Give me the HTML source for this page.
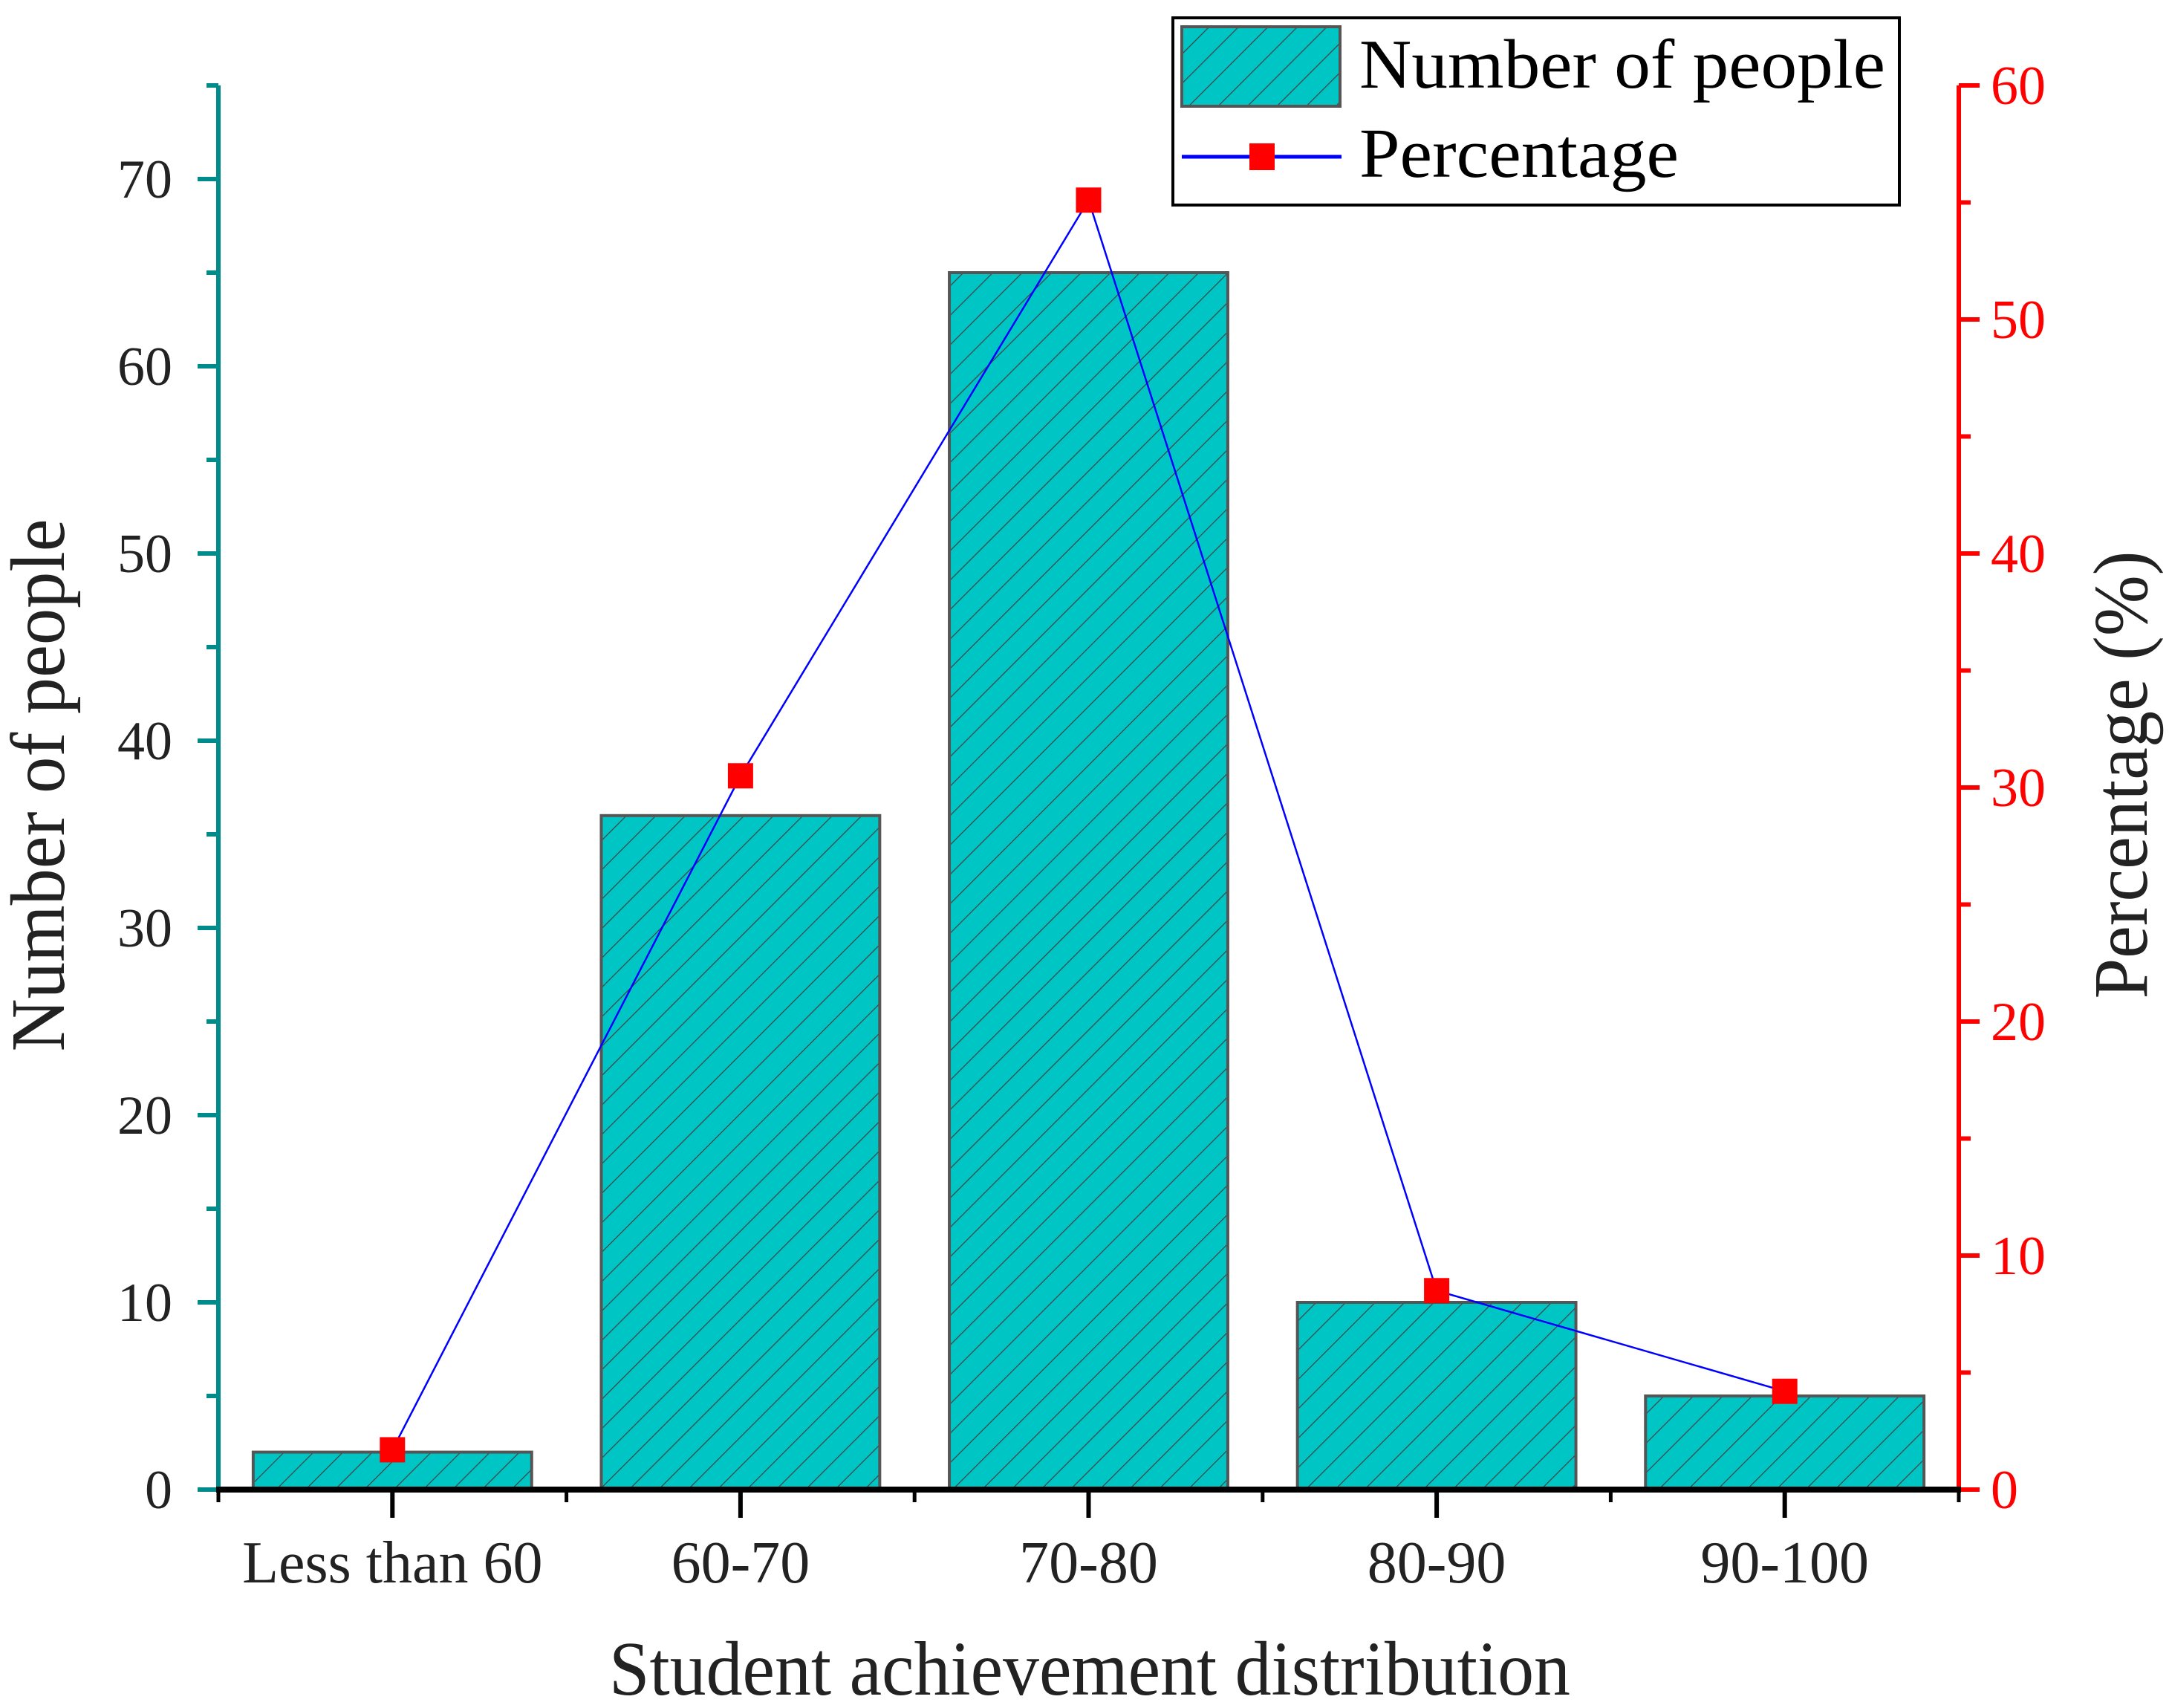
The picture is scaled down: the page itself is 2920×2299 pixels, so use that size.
<!DOCTYPE html>
<html><head><meta charset="utf-8"><style>html,body{margin:0;padding:0;background:#fff}svg{display:block}text{font-family:"Liberation Serif",serif}</style></head>
<body>
<svg id="chart" width="2920" height="2299" viewBox="0 0 2920 2299" xmlns="http://www.w3.org/2000/svg">
<defs>
<pattern id="hatch" patternUnits="userSpaceOnUse" width="28" height="28" patternTransform="rotate(45)">
<rect width="28" height="28" fill="#00C5C5"/>
<line x1="0" y1="0" x2="0" y2="28" stroke="#444" stroke-width="2.5"/>
</pattern>
</defs>
<g id="plot"></g>
</svg>
<script>
const categories = ["Less than 60","60-70","70-80","80-90","90-100"];
const counts = [2,36,65,10,5];
const percents = [1.7,30.5,55.1,8.5,4.2];
const leftTicks = [0,10,20,30,40,50,60,70];
const rightTicks = [0,10,20,30,40,50,60];

const NS="http://www.w3.org/2000/svg";
const g=document.getElementById('plot');
const X0=294,X1=2637,Y0=2005,YT=115;
const LMAX=75,RMAX=60;
const xs=i=>X0+(i+0.5)*(X1-X0)/categories.length;
const yl=v=>Y0-v/LMAX*(Y0-YT);
const yr=v=>Y0-v/RMAX*(Y0-YT);
const bw=(X1-X0)/categories.length*0.8;
function mk(t,a,p){const e=document.createElementNS(NS,t);for(const k in a)e.setAttribute(k,a[k]);(p||g).appendChild(e);return e;}

counts.forEach((v,i)=>{
 const r=mk('rect',{x:xs(i)-bw/2,y:yl(v),width:bw,height:Y0-yl(v),fill:'url(#hatch)',stroke:'#555','stroke-width':4});
 
 
});
const pl=mk('polyline',{points:percents.map((v,i)=>xs(i)+','+yr(v)).join(' '),fill:'none',stroke:'#0000FF','stroke-width':2.5});


percents.forEach((v,i)=>{
 const m=mk('rect',{x:xs(i)-17,y:yr(v)-17,width:34,height:34,fill:'#FF0000'});
 
 
});
const la=mk('line',{x1:X0,y1:YT,x2:X0,y2:Y0+3,stroke:'#008B8B','stroke-width':6});


for(let v=0;v<=LMAX;v+=5){mk('line',{x1:X0-(v%10?16:28),y1:yl(v),x2:X0,y2:yl(v),stroke:'#008B8B','stroke-width':6});}
leftTicks.forEach(v=>{const t=mk('text',{x:232,y:yl(v)+25,'text-anchor':'end','font-size':74,fill:'#222'});t.textContent=v;
 
 });
const ra=mk('line',{x1:X1,y1:YT,x2:X1,y2:Y0+3,stroke:'#FF0000','stroke-width':6});


for(let v=0;v<=RMAX;v+=5){mk('line',{x1:X1,y1:yr(v),x2:X1+(v%10?16:28),y2:yr(v),stroke:'#FF0000','stroke-width':6});}
rightTicks.forEach(v=>{const t=mk('text',{x:2680,y:yr(v)+25,'font-size':74,fill:'#FF0000'});t.textContent=v;
 
 });
const xa=mk('line',{x1:X0-3,y1:Y0,x2:X1+3,y2:Y0,stroke:'#000','stroke-width':8});


for(let i=0;i<=categories.length;i++){const x=X0+i*(X1-X0)/categories.length;mk('line',{x1:x,y1:Y0,x2:x,y2:Y0+17,stroke:'#000','stroke-width':5});}
categories.forEach((c,i)=>{mk('line',{x1:xs(i),y1:Y0,x2:xs(i),y2:Y0+38,stroke:'#000','stroke-width':6});
 const t=mk('text',{x:xs(i),y:2130,'text-anchor':'middle','font-size':80,fill:'#222'});t.textContent=c;
 
 });
</script>
<svg style="position:absolute;left:0;top:0" width="2920" height="2299" xmlns="http://www.w3.org/2000/svg">
<text x="1467" y="2281" text-anchor="middle" font-size="104" textLength="1294" lengthAdjust="spacingAndGlyphs" fill="#222">Student achievement distribution</text>
<text transform="translate(86,1057) rotate(-90)" text-anchor="middle" font-size="104" textLength="717" lengthAdjust="spacingAndGlyphs" fill="#222">Number of people</text>
<text transform="translate(2890,1043) rotate(-90)" text-anchor="middle" font-size="104" textLength="603" lengthAdjust="spacingAndGlyphs" fill="#222">Percentage (%)</text>
<g>
<rect x="1579" y="24" width="978" height="252" fill="#fff" stroke="#000" stroke-width="4"/>
<rect x="1591" y="36" width="213" height="107" fill="url(#hatch)" stroke="#555" stroke-width="4"/>
<text x="1830" y="118" font-size="94" textLength="708" lengthAdjust="spacingAndGlyphs" fill="#000">Number of people</text>
<line x1="1591" y1="211" x2="1806" y2="211" stroke="#0000FF" stroke-width="5"/>
<rect x="1682" y="193" width="34" height="36" fill="#FF0000"/>
<text x="1830" y="238" font-size="94" textLength="430" lengthAdjust="spacingAndGlyphs" fill="#000">Percentage</text>
</g>
</svg>
</body></html>
